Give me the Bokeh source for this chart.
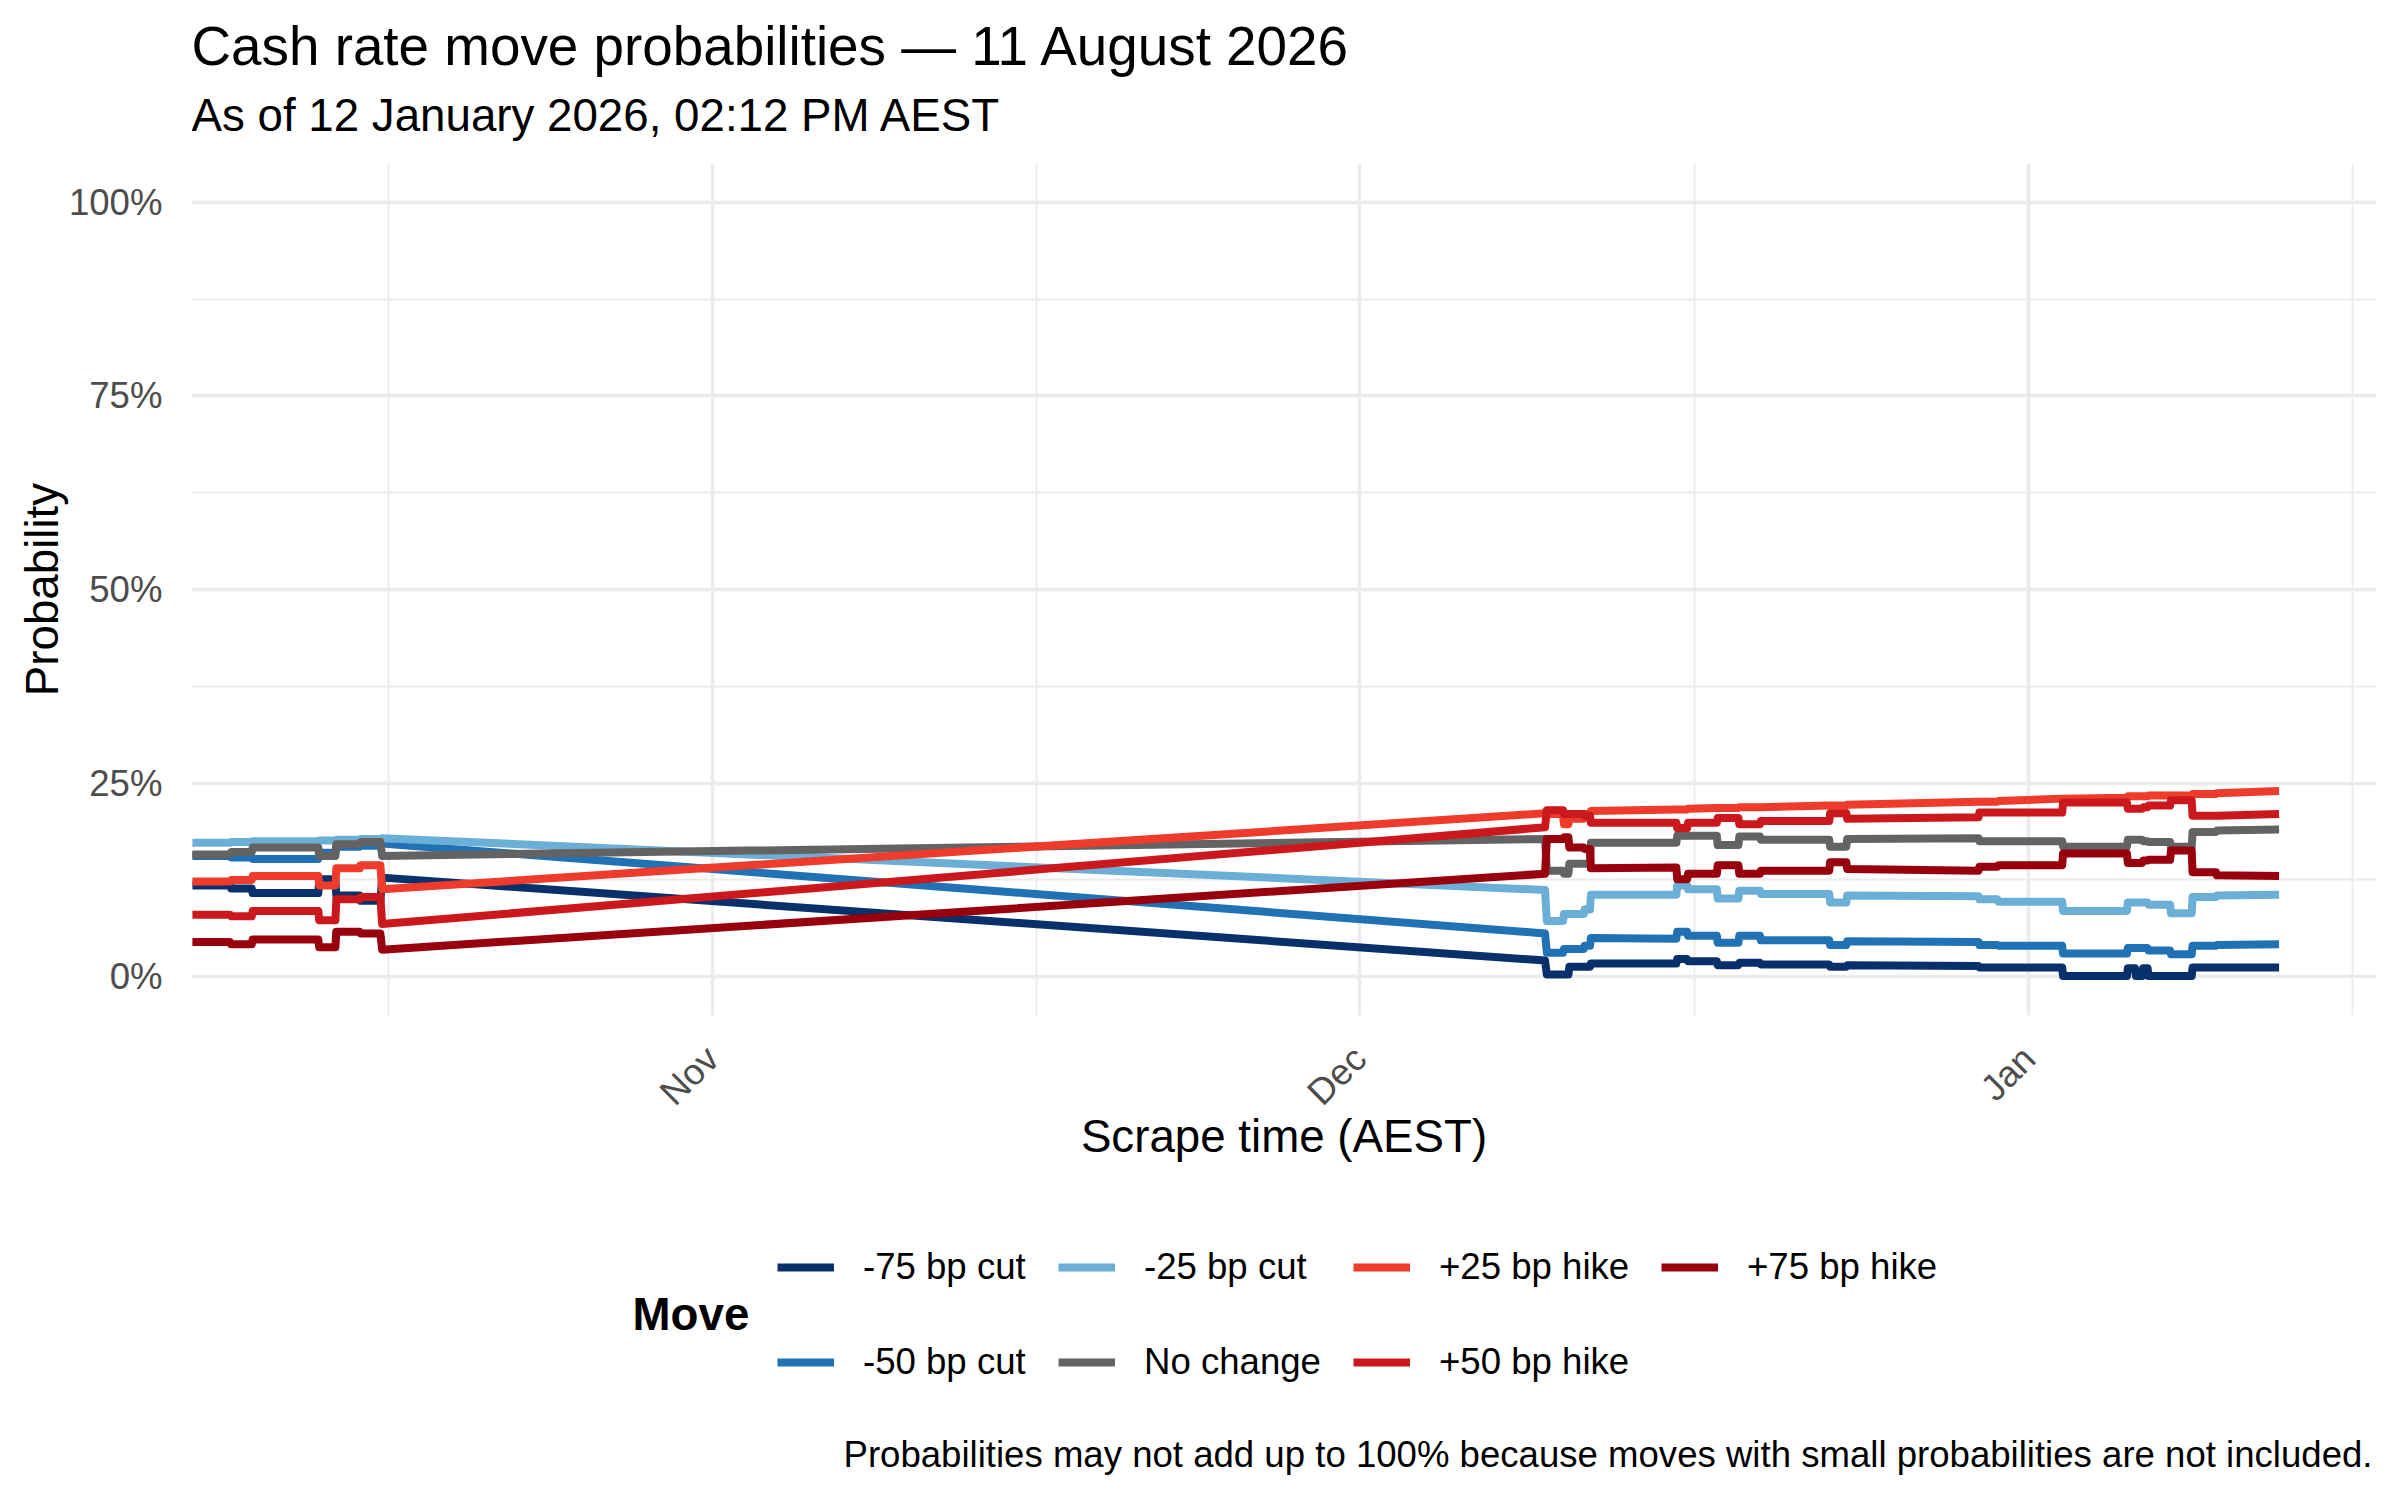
import math
import pandas as pd
from bokeh.plotting import figure
from bokeh.layouts import column
from bokeh.models import (ColumnDataSource, Range1d, FixedTicker, DatetimeTickFormatter,
                          PrintfTickFormatter, Label, Legend, LegendItem)
from bokeh.embed import file_html
from bokeh.resources import INLINE

FONT = "Liberation Sans"
W = 2392
LW = 8

# scrape times (AEST) - each flat stretch has a first and last scrape
scrape_times = [
    "2025-10-07 22:00", "2025-10-09 16:00", "2025-10-09 17:00", "2025-10-10 16:00",
    "2025-10-10 17:00", "2025-10-13 18:00", "2025-10-13 19:00", "2025-10-14 13:00",
    "2025-10-14 14:00", "2025-10-15 16:00", "2025-10-15 17:00", "2025-10-16 15:00",
    "2025-10-16 17:00", "2025-12-09 14:00",
    "2025-12-09 16:00", "2025-12-10 10:00", "2025-12-10 11:00", "2025-12-10 16:00",
    "2025-12-10 17:00", "2025-12-11 09:00", "2025-12-11 10:00", "2025-12-11 16:00",
    "2025-12-11 17:00", "2025-12-15 16:00", "2025-12-15 17:00", "2025-12-16 04:00",
    "2025-12-16 05:00", "2025-12-17 13:00", "2025-12-17 14:00", "2025-12-18 13:00",
    "2025-12-18 14:00", "2025-12-19 13:00", "2025-12-19 14:00", "2025-12-22 18:00",
    "2025-12-22 19:00", "2025-12-23 13:00", "2025-12-23 14:00", "2025-12-29 16:00",
    "2025-12-29 17:00", "2025-12-30 13:00", "2025-12-30 14:00", "2026-01-02 13:00",
    "2026-01-02 14:00", "2026-01-05 13:00", "2026-01-05 14:00", "2026-01-05 22:00",
    "2026-01-05 23:00", "2026-01-06 06:00", "2026-01-06 07:00", "2026-01-06 12:00",
    "2026-01-06 13:00", "2026-01-07 13:00", "2026-01-07 14:00", "2026-01-08 13:00",
    "2026-01-08 14:00", "2026-01-09 16:00", "2026-01-09 17:00", "2026-01-12 14:12",
]

cut75 = [11.8, 11.8, 11.4, 11.4, 10.8, 10.8, 12.6, 12.6, 10.5, 10.5, 9.8, 9.8, 12.8, 2.1,
         0.3, 0.3, 0.3, 0.3, 1.3, 1.3, 1.3, 1.3, 1.7, 1.7, 2.3, 2.3, 2.0, 2.0, 1.5, 1.5,
         1.8, 1.8, 1.6, 1.6, 1.3, 1.3, 1.5, 1.4, 1.2, 1.2, 1.2, 1.2, 0.1, 0.1, 1.1, 1.1,
         0.1, 0.1, 1.1, 1.1, 0.1, 0.1, 0.1, 0.1, 1.2, 1.2, 1.2, 1.2]
cut50 = [15.6, 15.6, 15.4, 15.4, 15.2, 15.2, 16.0, 16.0, 16.8, 16.8, 16.9, 16.9, 17.2, 5.6,
         3.1, 3.1, 3.6, 3.6, 3.6, 3.6, 4.0, 4.0, 5.0, 4.9, 5.8, 5.8, 5.3, 5.3, 4.4, 4.4,
         5.3, 5.3, 4.7, 4.7, 4.1, 4.1, 4.6, 4.5, 4.1, 4.1, 4.0, 4.0, 3.0, 3.0, 3.7, 3.7,
         3.7, 3.7, 3.7, 3.7, 3.4, 3.4, 2.9, 2.9, 4.0, 4.0, 4.1, 4.2]
cut25 = [17.3, 17.3, 17.4, 17.4, 17.5, 17.5, 17.6, 17.6, 17.7, 17.7, 17.8, 17.8, 17.9, 11.2,
         7.2, 7.2, 8.1, 8.1, 8.1, 8.1, 8.7, 8.7, 10.6, 10.6, 11.8, 11.8, 11.3, 11.3, 10.1, 10.1,
         11.1, 11.1, 10.7, 10.7, 9.6, 9.6, 10.5, 10.4, 10.0, 10.0, 9.7, 9.7, 8.5, 8.5, 9.6, 9.6,
         9.6, 9.6, 9.6, 9.6, 9.3, 9.3, 8.2, 8.2, 10.3, 10.3, 10.5, 10.6]
no_change = [15.8, 15.8, 16.1, 16.1, 16.7, 16.7, 15.6, 15.6, 17.1, 17.1, 17.4, 17.4, 15.6, 17.8,
             13.7, 13.7, 13.3, 13.3, 14.6, 14.6, 14.6, 14.6, 17.3, 17.3, 18.2, 18.2, 18.2, 18.2,
             17.0, 17.0, 18.1, 18.1, 17.7, 17.7, 16.8, 16.8, 17.8, 17.9, 17.5, 17.5, 17.5, 17.5,
             16.8, 16.8, 17.7, 17.7, 17.7, 17.7, 17.5, 17.5, 17.4, 17.4, 16.8, 16.8, 18.7, 18.7,
             18.9, 19.0]
hike25 = [12.3, 12.3, 12.5, 12.5, 13.0, 13.0, 11.8, 11.8, 14.0, 14.0, 14.4, 14.4, 11.3, 21.1,
          21.0, 21.0, 19.7, 19.7, 20.4, 20.4, 21.0, 21.0, 21.4, 21.6, 21.6, 21.6, 21.7, 21.8,
          21.8, 21.8, 21.9, 21.9, 21.9, 22.1, 22.1, 22.1, 22.2, 22.6, 22.6, 22.6, 22.7, 23.0,
          23.0, 23.1, 23.3, 23.3, 23.3, 23.3, 23.3, 23.3, 23.4, 23.4, 23.4, 23.4, 23.6, 23.6,
          23.7, 24.0]
hike50 = [8.0, 8.0, 7.8, 7.8, 8.5, 8.5, 7.3, 7.3, 10.0, 10.0, 10.3, 10.3, 6.8, 19.3,
          21.5, 21.5, 21.0, 21.0, 21.0, 21.0, 20.8, 20.8, 19.9, 19.9, 19.2, 19.2, 19.9, 19.9,
          20.5, 20.5, 19.7, 19.7, 20.1, 20.1, 21.1, 21.1, 20.4, 20.6, 21.2, 21.2, 21.2, 21.2,
          22.5, 22.5, 21.7, 21.7, 21.7, 21.7, 21.9, 21.9, 22.1, 22.1, 22.8, 22.8, 20.8, 20.8,
          20.8, 21.0]
hike75 = [4.5, 4.5, 4.2, 4.2, 4.8, 4.8, 3.8, 3.8, 5.8, 5.8, 5.6, 5.6, 3.5, 13.3,
          17.8, 17.8, 18.0, 18.0, 16.7, 16.7, 16.5, 16.5, 14.0, 14.1, 12.6, 12.6, 13.3, 13.3,
          14.4, 14.4, 13.3, 13.3, 13.7, 13.7, 14.8, 14.8, 13.9, 13.7, 14.2, 14.2, 14.4, 14.4,
          15.9, 15.9, 14.7, 14.7, 14.7, 14.7, 15.0, 15.0, 15.1, 15.1, 16.3, 16.3, 13.5, 13.5,
          13.1, 13.0]

moves = ["-75 bp cut", "-50 bp cut", "-25 bp cut", "No change",
         "+25 bp hike", "+50 bp hike", "+75 bp hike"]
colors = ["#08306B", "#2171B5", "#6BAED6", "#636363", "#EF3B2C", "#CB181D", "#99000D"]
month_ticks = ["2025-11-01", "2025-12-01", "2026-01-01"]
month_minor = ["2025-10-17", "2025-11-16", "2025-12-16 12:00", "2026-01-16"]
pct_ticks = [0, 25, 50, 75, 100]
pct_minor = [12.5, 37.5, 62.5, 87.5]


def ms(s):
    return pd.Timestamp(s).value / 1e6


def blank(height):
    f = figure(width=W, height=height, x_range=Range1d(0, 1), y_range=Range1d(0, 1),
               output_backend="svg", toolbar_location=None,
               x_axis_location=None, y_axis_location=None, min_border=0)
    f.outline_line_color = None
    f.xgrid.visible = False
    f.ygrid.visible = False
    return f


def label(f, x, y, text, size, align="left", style="normal"):
    f.add_layout(Label(x=x, y=y, x_units="screen", y_units="screen", text=text,
                       text_font=FONT, text_font_size=size, text_font_style=style,
                       text_color="black", text_align=align, text_baseline="alphabetic"))


src = ColumnDataSource(dict(t=[ms(s) for s in scrape_times],
                            c75=cut75, c50=cut50, c25=cut25, nc=no_change,
                            h25=hike25, h50=hike50, h75=hike75))
cols = ["c75", "c50", "c25", "nc", "h25", "h50", "h75"]

# --- heading strip (its frame lines up with the main panel, left edge at x=191) ---
top = blank(163)
label(top, 0, 118, "Cash rate move probabilities \u2014 11 August 2026", "54.8px")
label(top, 0, 48, "As of 12 January 2026, 02:12 PM AEST", "45.7px")

# --- main panel ---
p = figure(width=W, height=1012, x_axis_type="datetime",
           x_range=Range1d(ms("2025-10-07 21:00"), ms("2026-01-17 02:30")),
           y_range=Range1d(-5, 105),
           output_backend="svg", toolbar_location=None,
           min_border_left=191, min_border_right=16, min_border_top=0, min_border_bottom=160)
p.outline_line_color = None

xt = FixedTicker(ticks=[ms(s) for s in month_ticks], minor_ticks=[ms(s) for s in month_minor])
yt = FixedTicker(ticks=pct_ticks, minor_ticks=pct_minor)
p.xaxis.ticker = xt
p.xgrid.ticker = xt
p.yaxis.ticker = yt
p.ygrid.ticker = yt
p.xaxis.formatter = DatetimeTickFormatter(months="%b", days="%b", hours="%b", years="%b")
p.yaxis.formatter = PrintfTickFormatter(format="%d%%")
p.xaxis.major_label_orientation = math.pi / 4
p.xaxis.axis_label = "Scrape time (AEST)"
p.yaxis.axis_label = "Probability"

for ax in [p.xaxis[0], p.yaxis[0]]:
    ax.axis_line_color = None
    ax.major_tick_line_color = None
    ax.minor_tick_line_color = None
    ax.major_label_text_font = FONT
    ax.major_label_text_font_size = "36.6px"
    ax.major_label_text_color = "#4D4D4D"
    ax.axis_label_text_font = FONT
    ax.axis_label_text_font_size = "45.7px"
    ax.axis_label_text_font_style = "normal"
    ax.axis_label_text_color = "black"
p.yaxis.major_label_standoff = 23
p.yaxis.axis_label_standoff = -2
p.xaxis.major_label_standoff = 31
p.xaxis.axis_label_standoff = -19

for g in [p.xgrid[0], p.ygrid[0]]:
    g.grid_line_color = "#EBEBEB"
    g.grid_line_width = 3.5
    g.minor_grid_line_color = "#EBEBEB"
    g.minor_grid_line_width = 1.8

for col, color in zip(cols, colors):
    p.line("t", col, source=src, line_width=LW, line_color=color, line_join="round")

# --- legend and caption strip ---
bot = blank(325)
# same series, out of this strip's view; only used as legend keys
keys = [bot.line("t", col, source=src, line_width=LW, line_color=c)
        for col, c in zip(cols, colors)]

# two rows, filled column by column
legend_cols = [[0, 1], [2, 3], [4, 5], [6]]
legend_x = [586, 867, 1162, 1470]
for idx, lx in zip(legend_cols, legend_x):
    items = [LegendItem(label=moves[i], renderers=[keys[i]]) for i in idx]
    h = len(idx) * 42 + (len(idx) - 1) * 53
    lg = Legend(items=items, location=(lx, 254 - h), orientation="vertical",
                padding=0, margin=0, spacing=53, glyph_width=57, glyph_height=42,
                label_height=42, label_standoff=29, label_text_font=FONT,
                label_text_font_size="36.6px", label_text_color="black",
                border_line_color=None, background_fill_alpha=0)
    bot.add_layout(lg)

label(bot, 441, 186, "Move", "45.7px", style="bold")
label(bot, 2181, 46, "Probabilities may not add up to 100% because moves with small "
                     "probabilities are not included.", "36.6px", align="right")

open("out.html", "w").write(file_html(column(top, p, bot), INLINE))
